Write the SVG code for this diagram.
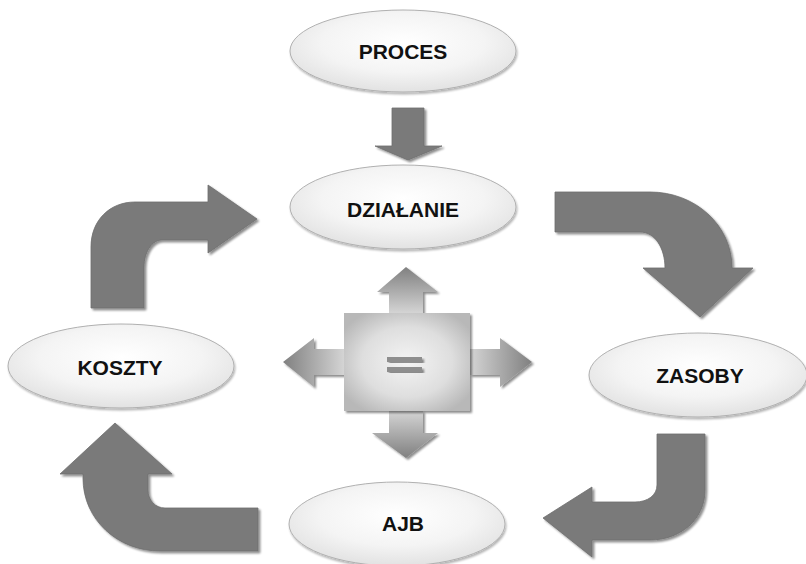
<svg xmlns="http://www.w3.org/2000/svg" width="806" height="564" viewBox="0 0 806 564">
  <defs>
    <radialGradient id="ellFill" cx="50%" cy="40%" r="60%">
      <stop offset="0" stop-color="#ffffff"/>
      <stop offset="0.6" stop-color="#f4f4f4"/>
      <stop offset="1" stop-color="#e2e2e2"/>
    </radialGradient>
    <radialGradient id="boxFill" cx="50%" cy="50%" r="60%">
      <stop offset="0" stop-color="#f4f4f4"/>
      <stop offset="0.6" stop-color="#dedede"/>
      <stop offset="1" stop-color="#b8b8b8"/>
    </radialGradient>
    <linearGradient id="armUp" gradientUnits="userSpaceOnUse" x1="0" y1="267" x2="0" y2="313">
      <stop offset="0" stop-color="#808080"/>
      <stop offset="1" stop-color="#d4d4d4"/>
    </linearGradient>
    <linearGradient id="armDown" gradientUnits="userSpaceOnUse" x1="0" y1="458" x2="0" y2="411">
      <stop offset="0" stop-color="#808080"/>
      <stop offset="1" stop-color="#d4d4d4"/>
    </linearGradient>
    <linearGradient id="armLeft" gradientUnits="userSpaceOnUse" x1="283" y1="0" x2="344" y2="0">
      <stop offset="0" stop-color="#808080"/>
      <stop offset="1" stop-color="#d4d4d4"/>
    </linearGradient>
    <linearGradient id="armRight" gradientUnits="userSpaceOnUse" x1="532" y1="0" x2="470" y2="0">
      <stop offset="0" stop-color="#808080"/>
      <stop offset="1" stop-color="#d4d4d4"/>
    </linearGradient>
    <filter id="shadow" x="-10%" y="-10%" width="120%" height="130%">
      <feGaussianBlur in="SourceAlpha" stdDeviation="1"/>
      <feOffset dx="1.5" dy="2" result="off"/>
      <feComponentTransfer><feFuncA type="linear" slope="0.45"/></feComponentTransfer>
      <feMerge><feMergeNode/><feMergeNode in="SourceGraphic"/></feMerge>
    </filter>
    <filter id="softShadow" x="-10%" y="-10%" width="120%" height="130%">
      <feGaussianBlur in="SourceAlpha" stdDeviation="0.8"/>
      <feOffset dx="0.5" dy="1.5" result="off"/>
      <feComponentTransfer><feFuncA type="linear" slope="0.3"/></feComponentTransfer>
      <feMerge><feMergeNode/><feMergeNode in="SourceGraphic"/></feMerge>
    </filter>
    <style>
      .node ellipse { fill: url(#ellFill); stroke: #b0b0b0; stroke-width: 1; filter: url(#softShadow); }
      .node text { font-family: "Liberation Sans", Arial, sans-serif; font-weight: bold; font-size: 21px; fill: #111; text-anchor: middle; dominant-baseline: central; }
      .flow path { fill: #7a7a7a; stroke: #6e6e6e; stroke-width: 0.8; filter: url(#shadow); }
      .cross path, .cross rect { filter: url(#shadow); }
      .eq { fill: #8e8e8e; }
    </style>
  </defs>

  <rect width="806" height="564" fill="#ffffff"/>

  <!-- connectors: solid grey block arrows -->
  <g id="connectors" class="flow">
    <!-- PROCES -> DZIAŁANIE -->
    <path d="M392 108 H424 V146 H442 L408 160 L375 146 H392 Z"/>
    <!-- DZIAŁANIE -> ZASOBY -->
    <path d="M555 192 L650 192 C695 192 732 225 732 268 L753 268 L700 317 L643 268 L665 268 C665 248 655 232 640 232 L555 232 Z"/>
    <!-- ZASOBY -> AJB -->
    <path d="M657 434 L705 434 L705 490 C705 520 680 540 650 540 L592 540 L592 557 L543 518 L592 487 L592 502 L635 502 C648 502 657 495 657 485 Z"/>
    <!-- AJB -> KOSZTY -->
    <path d="M258 508 L258 551 L160 551 C118 551 83 520 83 478 L83 474 L60 474 L115 423 L172 474 L148 474 L148 490 C148 500 155 508 165 508 Z"/>
    <!-- KOSZTY -> DZIAŁANIE -->
    <path d="M91 308 L91 247 C91 220 110 202 135 202 L208 202 L208 185 L257 219 L208 253 L208 240 L162 240 C152 240 144 252 144 267 L144 308 Z"/>
  </g>

  <!-- central equality block with four arms -->
  <g id="balance" class="cross">
    <path d="M389 313 V292 H377 L406 267 L438 292 H423 V313 Z" fill="url(#armUp)"/>
    <path d="M389 411 V433 H372 L406 458 L438 433 H423 V411 Z" fill="url(#armDown)"/>
    <path d="M344 349 H314 V338 L283 362 L314 387 V375 H344 Z" fill="url(#armLeft)"/>
    <path d="M470 349 H500 V338 L532 362 L500 387 V375 H470 Z" fill="url(#armRight)"/>
    <rect x="344" y="313" width="126" height="98" fill="url(#boxFill)"/>
    <rect class="eq" x="387" y="357" width="35" height="5"/>
    <rect class="eq" x="387" y="367" width="35" height="5"/>
  </g>

  <g id="proces" class="node">
    <ellipse cx="403" cy="51" rx="113" ry="41"/>
    <text x="403" y="51">PROCES</text>
  </g>
  <g id="dzialanie" class="node">
    <ellipse cx="403" cy="207" rx="113" ry="42"/>
    <text x="403" y="209">DZIAŁANIE</text>
  </g>
  <g id="zasoby" class="node">
    <ellipse cx="698" cy="375" rx="109" ry="42"/>
    <text x="700" y="375">ZASOBY</text>
  </g>
  <g id="ajb" class="node">
    <ellipse cx="397" cy="524" rx="108" ry="42"/>
    <text x="403" y="523">AJB</text>
  </g>
  <g id="koszty" class="node">
    <ellipse cx="121" cy="366" rx="113" ry="42"/>
    <text x="120" y="367">KOSZTY</text>
  </g>
</svg>
